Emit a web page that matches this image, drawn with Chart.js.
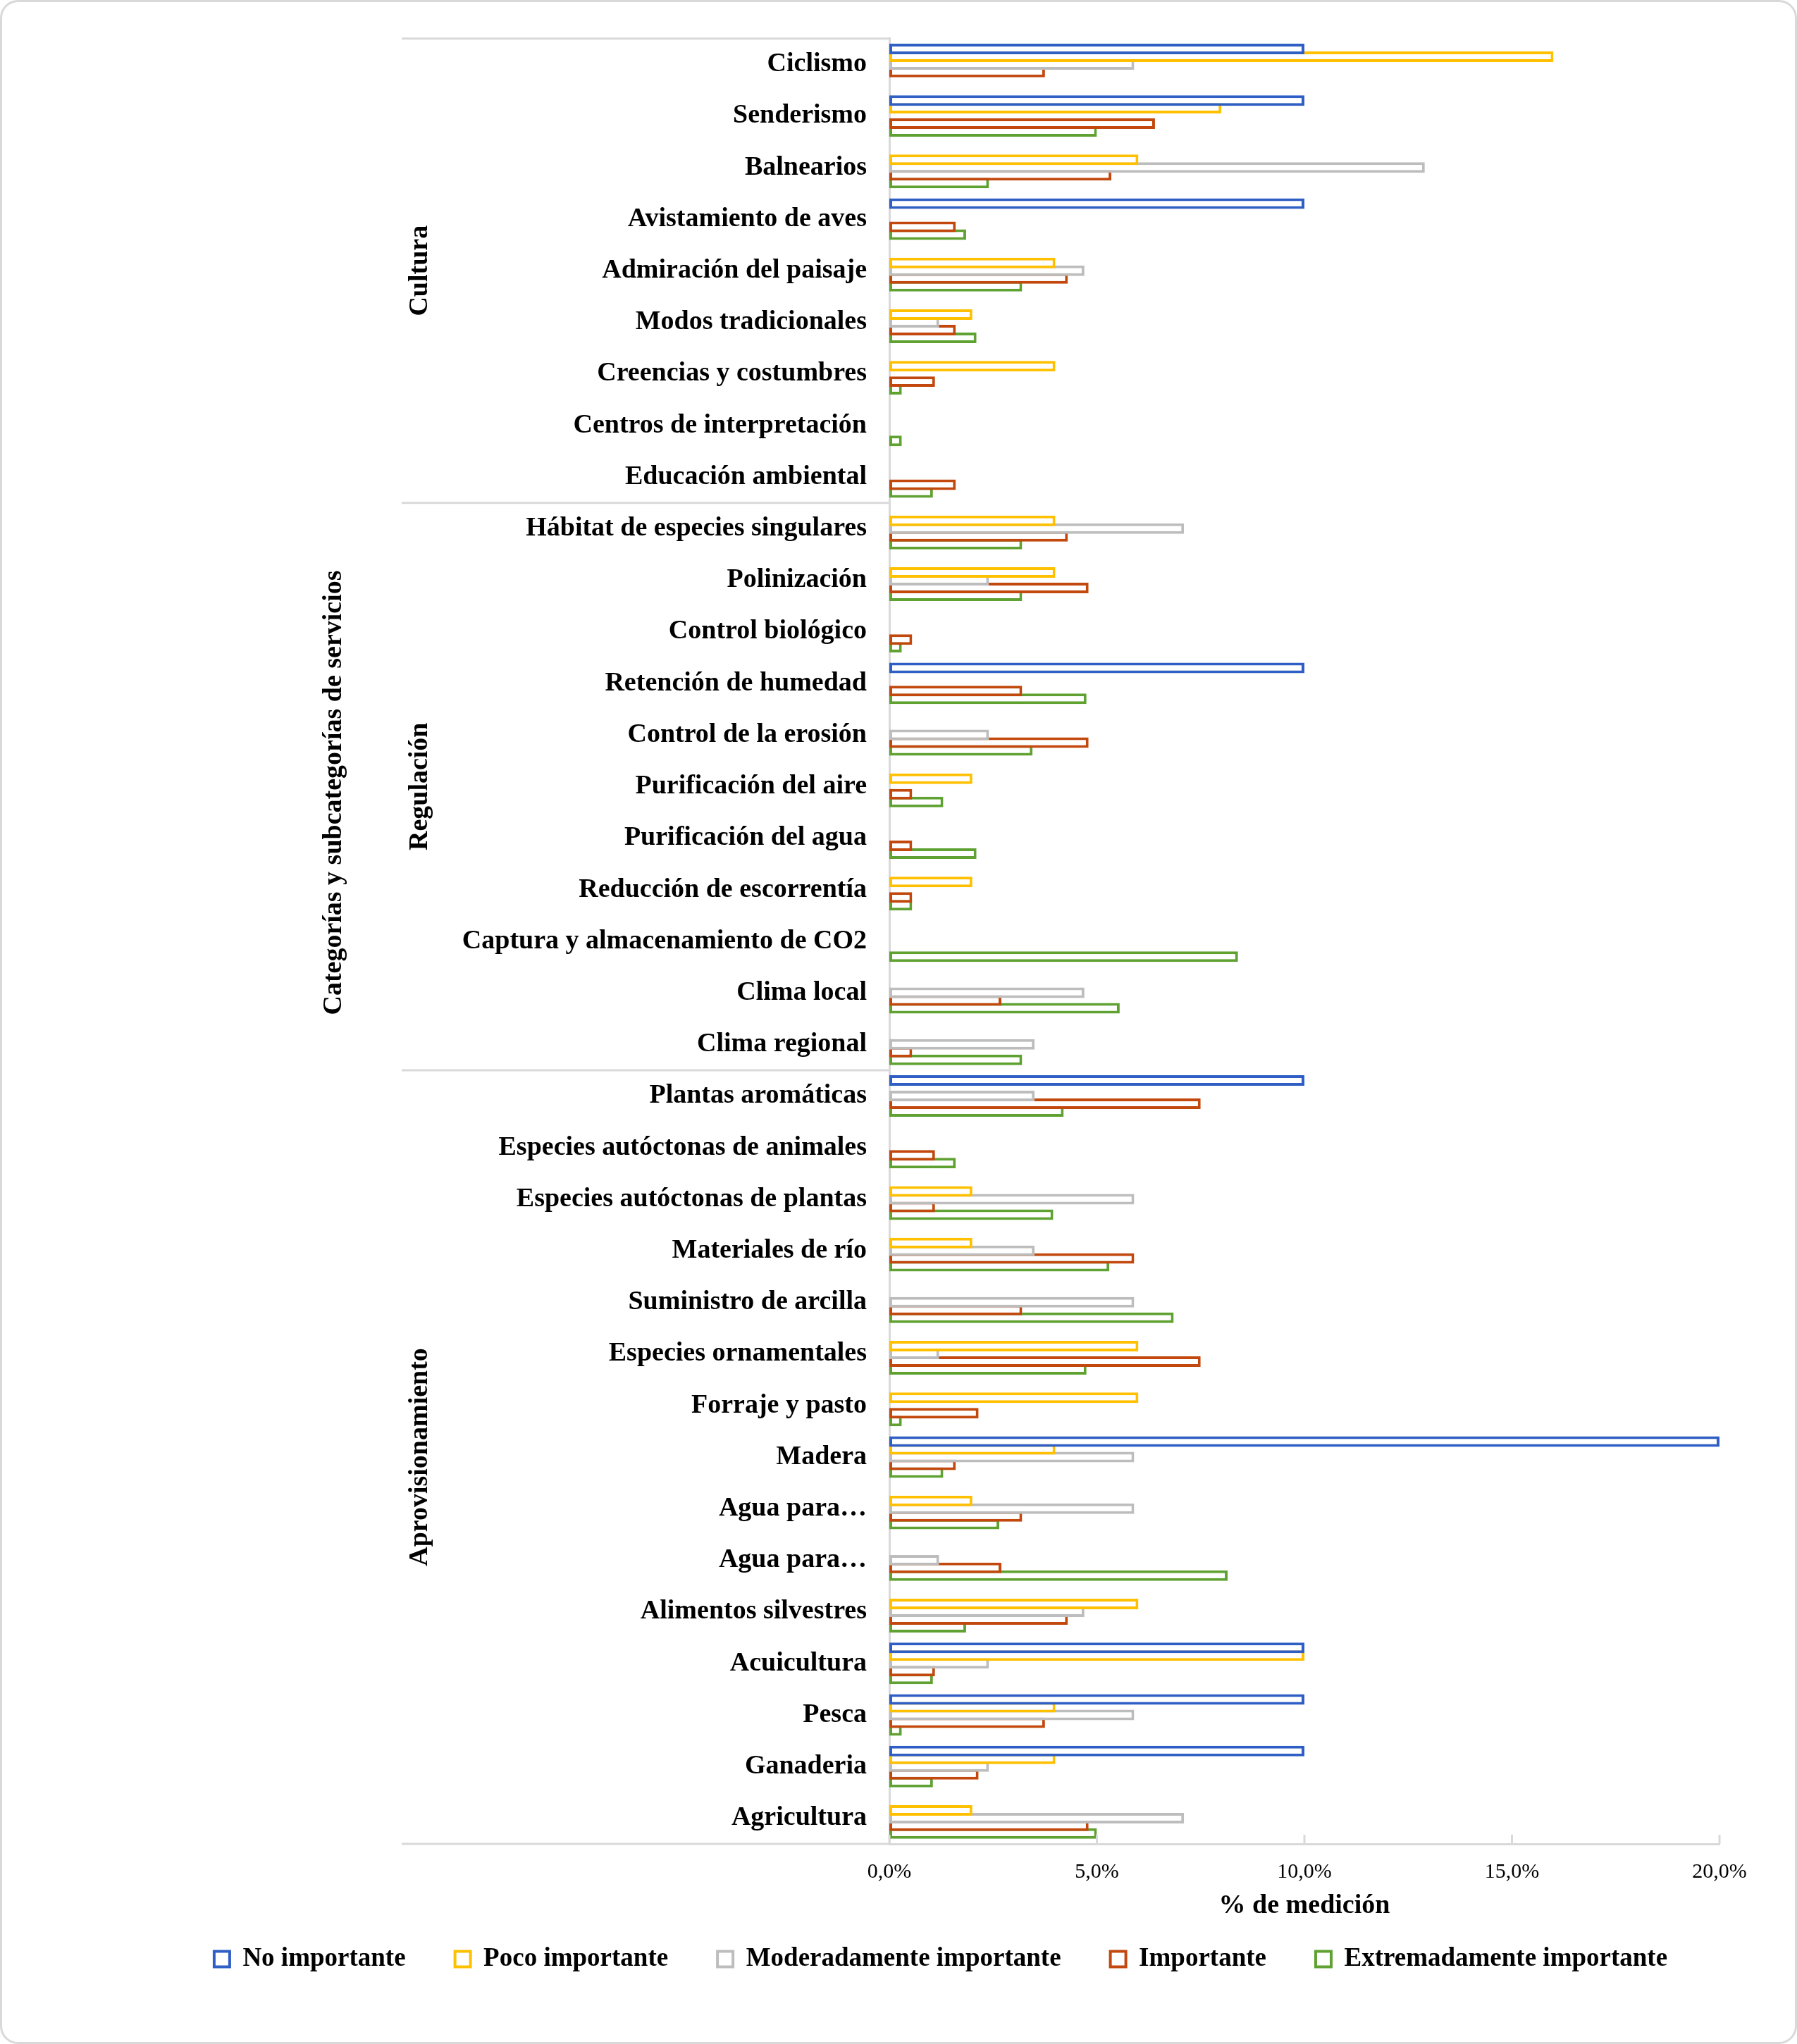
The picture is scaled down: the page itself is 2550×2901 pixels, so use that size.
<!DOCTYPE html>
<html lang="es">
<head>
<meta charset="utf-8">
<title>Servicios ecosistémicos</title>
<script src="https://cdn.jsdelivr.net/npm/chart.js@4.4.1/dist/chart.umd.min.js"></script>
<style>
    html, body { margin: 0; padding: 0; background: #ffffff; }
    #wrap { width: 2550px; height: 2901px; position: relative; }
    canvas { display: block; }
</style>
</head>
<body>
<div id="wrap"><canvas id="chart" width="2550" height="2901"></canvas></div>
<script>
// Subcategorías (de arriba a abajo)
const categorias = [
    "Ciclismo", "Senderismo", "Balnearios", "Avistamiento de aves", "Admiración del paisaje",
    "Modos tradicionales", "Creencias y costumbres", "Centros de interpretación", "Educación ambiental",
    "Hábitat de especies singulares", "Polinización", "Control biológico", "Retención de humedad",
    "Control de la erosión", "Purificación del aire", "Purificación del agua", "Reducción de escorrentía",
    "Captura y almacenamiento de CO2", "Clima local", "Clima regional",
    "Plantas aromáticas", "Especies autóctonas de animales", "Especies autóctonas de plantas",
    "Materiales de río", "Suministro de arcilla", "Especies ornamentales", "Forraje y pasto", "Madera",
    "Agua para…", "Agua para…", "Alimentos silvestres", "Acuicultura", "Pesca", "Ganaderia", "Agricultura"
];

// Categorías principales y cuántas subcategorías tiene cada una
const grupos = ["Cultura", "Regulación", "Aprovisionamiento"];
const tamanosGrupo = [9, 11, 15];

// % de medición por nivel de importancia
const noImportante = [10, 10, 0, 10, 0, 0, 0, 0, 0,
    0, 0, 0, 10, 0, 0, 0, 0, 0, 0, 0,
    10, 0, 0, 0, 0, 0, 0, 20, 0, 0, 0, 10, 10, 10, 0];
const pocoImportante = [16, 8, 6, 0, 4, 2, 4, 0, 0,
    4, 4, 0, 0, 0, 2, 0, 2, 0, 0, 0,
    0, 0, 2, 2, 0, 6, 6, 4, 2, 0, 6, 10, 4, 4, 2];
const moderadamente = [5.9, 0, 12.9, 0, 4.7, 1.2, 0, 0, 0,
    7.1, 2.4, 0, 0, 2.4, 0, 0, 0, 0, 4.7, 3.5,
    3.5, 0, 5.9, 3.5, 5.9, 1.2, 0, 5.9, 5.9, 1.2, 4.7, 2.4, 5.9, 2.4, 7.1];
const importante = [3.75, 6.4, 5.35, 1.6, 4.3, 1.6, 1.1, 0, 1.6,
    4.3, 4.8, 0.55, 3.2, 4.8, 0.55, 0.55, 0.55, 0, 2.7, 0.55,
    7.5, 1.1, 1.1, 5.9, 3.2, 7.5, 2.15, 1.6, 3.2, 2.7, 4.3, 1.1, 3.75, 2.15, 4.8];
const extremadamente = [0, 5.0, 2.4, 1.85, 3.2, 2.1, 0.3, 0.3, 1.05,
    3.2, 3.2, 0.3, 4.75, 3.45, 1.3, 2.1, 0.55, 8.4, 5.55, 3.2,
    4.2, 1.6, 3.95, 5.3, 6.85, 4.75, 0.3, 1.3, 2.65, 8.15, 1.85, 1.05, 0.3, 1.05, 5.0];

const ticksX = [0, 5, 10, 15, 20];

const colores = ["#2f5ec4", "#ffc000", "#bdbdbd", "#c2480d", "#5fa232"];
const nombres = ["No importante", "Poco importante", "Moderadamente importante", "Importante", "Extremadamente importante"];
const series = [noImportante, pocoImportante, moderadamente, importante, extremadamente];

const FUENTE = "'Liberation Serif', 'Times New Roman', serif";
const GRIS = "#d9d9d9";
const BORDE_IZQ = 570;   // inicio de las líneas del eje de categorías
const EJE_Y = 1262;      // posición del eje vertical
const PAD_IZQ = 230;

// Marco redondeado de fondo
const marco = {
    id: "marco",
    beforeDraw(chart) {
        const ctx = chart.ctx;
        ctx.save();
        ctx.fillStyle = "#ffffff";
        ctx.fillRect(0, 0, chart.width, chart.height);
        ctx.strokeStyle = GRIS;
        ctx.lineWidth = 3;
        ctx.beginPath();
        ctx.roundRect(1.5, 1.5, chart.width - 3, chart.height - 3, 24);
        ctx.stroke();
        ctx.restore();
    }
};

// Eje de categorías de varios niveles + marcas del eje X
const ejeMultinivel = {
    id: "ejeMultinivel",
    afterDraw(chart) {
        const ctx = chart.ctx;
        const area = chart.chartArea;
        const y = chart.scales.y;
        const x = chart.scales.x;
        ctx.save();
        ctx.strokeStyle = GRIS;
        ctx.lineWidth = 3;

        // líneas horizontales de los grupos
        const bordes = [area.top];
        let acum = 0;
        tamanosGrupo.forEach(n => {
            acum += n;
            if (acum < categorias.length) {
                bordes.push((y.getPixelForTick(acum - 1) + y.getPixelForTick(acum)) / 2);
            }
        });
        bordes.push(area.bottom);
        bordes.forEach(py => {
            ctx.beginPath();
            ctx.moveTo(BORDE_IZQ, py);
            ctx.lineTo(area.left, py);
            ctx.stroke();
        });

        // marcas del eje X hacia dentro
        ticksX.forEach(v => {
            const px = x.getPixelForValue(v);
            ctx.beginPath();
            ctx.moveTo(px, area.bottom);
            ctx.lineTo(px, area.bottom - 13);
            ctx.stroke();
        });

        // nombres de los grupos (girados)
        ctx.fillStyle = "#000";
        ctx.font = "bold 38px " + FUENTE;
        ctx.textAlign = "center";
        ctx.textBaseline = "middle";
        grupos.forEach((g, i) => {
            const cy = (bordes[i] + bordes[i + 1]) / 2;
            ctx.save();
            ctx.translate(596, cy);
            ctx.rotate(-Math.PI / 2);
            ctx.fillText(g, 0, 0);
            ctx.restore();
        });

        // título del eje Y
        ctx.save();
        ctx.translate(474, 1125);
        ctx.rotate(-Math.PI / 2);
        ctx.fillText("Categorías y subcategorías de servicios", 0, 0);
        ctx.restore();

        ctx.restore();
    }
};

const ctx = document.getElementById("chart").getContext("2d");
const grafico = new Chart(ctx, {
    type: "bar",
    data: {
        labels: categorias,
        datasets: series.map((datos, i) => ({
            label: nombres[i],
            data: datos,
            backgroundColor: "#ffffff",
            borderColor: colores[i],
            borderWidth: 4,
            borderSkipped: false,
            categoryPercentage: 0.75,
            barPercentage: 1.364
        }))
    },
    options: {
        indexAxis: "y",
        responsive: false,
        animation: false,
        devicePixelRatio: 1,
        layout: { padding: { left: PAD_IZQ, right: 110, top: 50, bottom: 92 } },
        scales: {
            x: {
                min: 0,
                max: 20,
                afterFit: scale => { scale.height = 75; },
                afterBuildTicks: scale => { scale.ticks = ticksX.map(v => ({ value: v })); },
                grid: { display: false, drawTicks: false },
                border: { display: true, color: GRIS, width: 3 },
                ticks: {
                    padding: 22,
                    color: "#000",
                    font: { family: FUENTE, size: 30 },
                    callback: v => v.toFixed(1).replace(".", ",") + "%"
                },
                title: {
                    display: true,
                    text: "% de medición",
                    color: "#000",
                    font: { family: FUENTE, size: 38, weight: "bold" },
                    padding: { top: 0, bottom: -36 }
                }
            },
            y: {
                afterFit: scale => { scale.width = EJE_Y - PAD_IZQ; },
                grid: { display: false, drawTicks: false },
                border: { display: true, color: GRIS, width: 3 },
                ticks: {
                    padding: 32,
                    autoSkip: false,
                    color: "#000",
                    font: { family: FUENTE, size: 38, weight: "bold" }
                }
            }
        },
        plugins: {
            legend: {
                position: "bottom",
                labels: {
                    boxWidth: 22,
                    boxHeight: 22,
                    padding: 70,
                    color: "#000",
                    font: { family: FUENTE, size: 37, weight: "bold" }
                }
            },
            tooltip: { enabled: false }
        }
    },
    plugins: [marco, ejeMultinivel]
});
</script>
</body>
</html>
